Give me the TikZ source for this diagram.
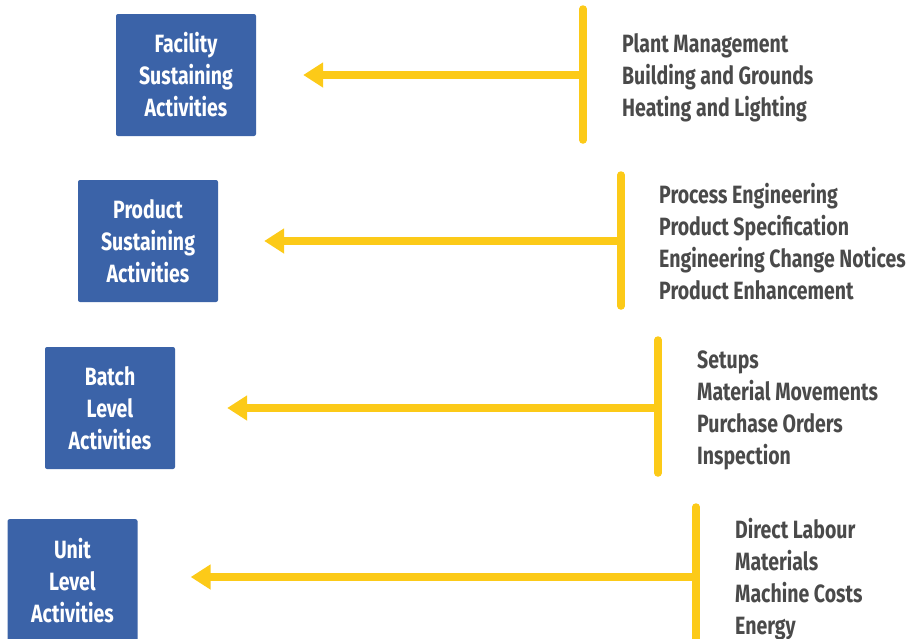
\documentclass[tikz,border=0pt]{standalone}
\usepackage{fontspec}
\setmainfont[FakeStretch=0.78]{Fira Sans}
\usetikzlibrary{arrows.meta,positioning}
\definecolor{BoxBlue}{RGB}{59,99,168}
\definecolor{BarYellow}{RGB}{252,202,24}
\definecolor{ListGray}{RGB}{74,74,74}

\begin{document}
\begin{tikzpicture}[x=1pt,y=-1pt,
  actbox/.style={fill=BoxBlue,rounded corners=2pt,minimum height=122pt,text=white,align=center,
    font=\fontsize{25}{32}\selectfont\bfseries},
  costlist/.style={anchor=west,text=ListGray,align=left,inner sep=0pt,
    font=\fontsize{25}{32}\selectfont\bfseries},
  bar/.style={BarYellow,line width=7.5pt,line cap=round},
  feed/.style={BarYellow,line width=7.5pt,-{Triangle[length=20pt,width=24pt]}}]
\useasboundingbox (0,0) rectangle (919,638);
% activity boxes
\node[actbox,minimum width=140pt] (fac) at (186,75) {Facility\\Sustaining\\Activities};
\node[actbox,minimum width=140pt] (prod) at (148,241) {Product\\Sustaining\\Activities};
\node[actbox,minimum width=130pt] (batch) at (110,408) {Batch\\Level\\Activities};
\node[actbox,minimum width=130pt,anchor=north] (unit) at (72.5,519) {Unit\\Level\\Activities};
% cost lists
\node[costlist] (facl) at (622,78) {Plant Management\\Building and Grounds\\Heating and Lighting};
\node[costlist] (prodl) at (659,242) {Process Engineering\\Product Specification\\Engineering Change Notices\\Product Enhancement};
\node[costlist] (batchl) at (697,410) {Setups\\Material Movements\\Purchase Orders\\Inspection};
\node[costlist] (unitl) at (735,579) {Direct Labour\\Materials\\Machine Costs\\Energy};
% bars and arrows
\coordinate (facb) at (583,75);
\coordinate (prodb) at (621,241);
\coordinate (batchb) at (658,408);
\coordinate (unitb) at (696,577);
\draw[bar] ([yshift=-65pt]facb) -- ([yshift=66pt]facb);
\draw[bar] ([yshift=-65pt]prodb) -- ([yshift=66pt]prodb);
\draw[bar] ([yshift=-65pt]batchb) -- ([yshift=68pt]batchb);
\draw[bar] ([yshift=-66pt]unitb) -- ([yshift=70pt]unitb);
\draw[feed,shorten >=47pt] (facb) -- (fac.east |- facb);
\draw[feed,shorten >=46pt] (prodb) -- (prod.east |- prodb);
\draw[feed,shorten >=52pt] (batchb) -- (batch.east |- batchb);
\draw[feed,shorten >=53pt] (unitb) -- (unit.east |- unitb);
\end{tikzpicture}
\end{document}
